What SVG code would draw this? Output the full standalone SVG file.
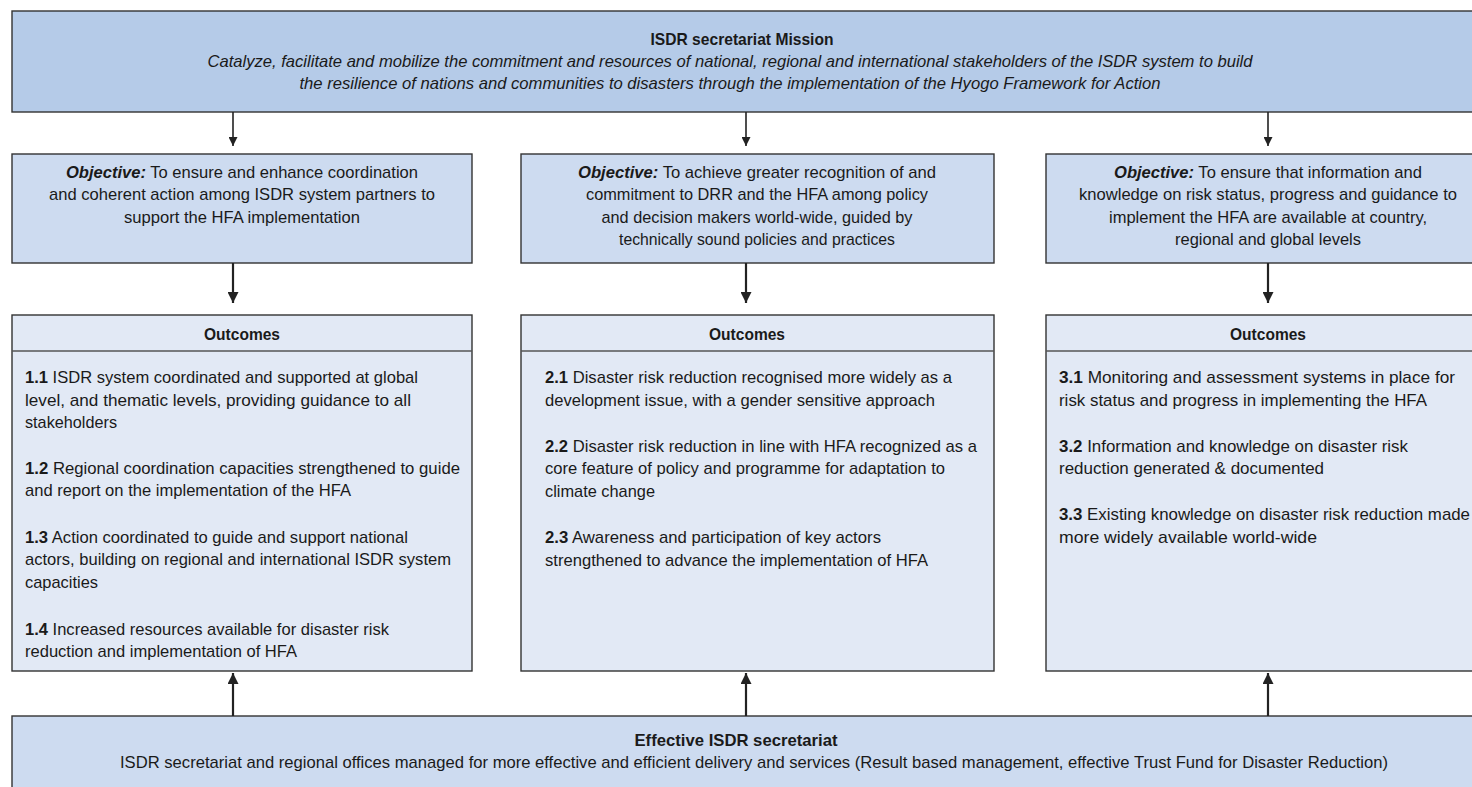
<svg xmlns="http://www.w3.org/2000/svg" width="1472" height="787" viewBox="0 0 1472 787">
<style>
text{font-family:"Liberation Sans",Arial,sans-serif;font-size:17px;fill:#1a1a1a}
.b{font-weight:bold}
.i{font-style:italic}
.m{text-anchor:middle}
.mis{fill:#b5cbe8;stroke:#333;stroke-width:1.4}
.obj{fill:#cddbf0;stroke:#333;stroke-width:1.4}
.out{fill:#e2e9f5;stroke:#333;stroke-width:1.4}
.hl{stroke:#555;stroke-width:1.4}
.c1{stroke:#222;stroke-width:1.6;fill:none}
.c2{stroke:#222;stroke-width:2.2;fill:none}
</style>
<defs>
<marker id="ah" viewBox="0 0 10 10" refX="10" refY="5" markerWidth="9" markerHeight="9" markerUnits="userSpaceOnUse" orient="auto">
<path d="M0,0 L10,5 L0,10 z" fill="#222"/>
</marker>
<marker id="ah2" viewBox="0 0 10 10" refX="10" refY="5" markerWidth="11" markerHeight="11" markerUnits="userSpaceOnUse" orient="auto">
<path d="M0,0 L10,5 L0,10 z" fill="#222"/>
</marker>
</defs>
<rect width="1472" height="787" fill="#fff"/>

<g id="mission">
<rect class="mis" x="12" y="11" width="1480" height="101"/>
<text class="b m" x="742" y="45" textLength="183" lengthAdjust="spacingAndGlyphs">ISDR secretariat Mission</text>
<text class="i m" x="730" y="67" textLength="1045" lengthAdjust="spacingAndGlyphs">Catalyze, facilitate and mobilize the commitment and resources of national, regional and international stakeholders of the ISDR system to build</text>
<text class="i m" x="730" y="89" textLength="861" lengthAdjust="spacingAndGlyphs">the resilience of nations and communities to disasters through the implementation of the Hyogo Framework for Action</text>
</g>

<g id="objective1">
<rect class="obj" x="12" y="154" width="460" height="109"/>
<text class="m" x="242" y="178" textLength="352" lengthAdjust="spacingAndGlyphs"><tspan class="b i">Objective:</tspan> To ensure and enhance coordination</text>
<text class="m" x="242" y="200" textLength="386" lengthAdjust="spacingAndGlyphs">and coherent action among ISDR system partners to</text>
<text class="m" x="242" y="223" textLength="236" lengthAdjust="spacingAndGlyphs">support the HFA implementation</text>
</g>

<g id="objective2">
<rect class="obj" x="521" y="154" width="473" height="109"/>
<text class="m" x="757" y="178" textLength="358" lengthAdjust="spacingAndGlyphs"><tspan class="b i">Objective:</tspan> To achieve greater recognition of and</text>
<text class="m" x="757" y="200" textLength="342" lengthAdjust="spacingAndGlyphs">commitment to DRR and the HFA among policy</text>
<text class="m" x="757" y="223" textLength="311" lengthAdjust="spacingAndGlyphs">and decision makers world-wide, guided by</text>
<text class="m" x="757" y="245" textLength="276" lengthAdjust="spacingAndGlyphs">technically sound policies and practices</text>
</g>

<g id="objective3">
<rect class="obj" x="1046" y="154" width="450" height="109"/>
<text class="m" x="1268" y="178" textLength="308" lengthAdjust="spacingAndGlyphs"><tspan class="b i">Objective:</tspan> To ensure that information and</text>
<text class="m" x="1268" y="200" textLength="378" lengthAdjust="spacingAndGlyphs">knowledge on risk status, progress and guidance to</text>
<text class="m" x="1268" y="223" textLength="318" lengthAdjust="spacingAndGlyphs">implement the HFA are available at country,</text>
<text class="m" x="1268" y="245" textLength="186" lengthAdjust="spacingAndGlyphs">regional and global levels</text>
</g>

<g id="outcomes1">
<rect class="out" x="12" y="315" width="460" height="356"/>
<line class="hl" x1="12" y1="351" x2="472" y2="351"/>
<text class="b m" x="242" y="340" textLength="76" lengthAdjust="spacingAndGlyphs">Outcomes</text>
<text x="25" y="383" textLength="393" lengthAdjust="spacingAndGlyphs"><tspan class="b">1.1</tspan> ISDR system coordinated and supported at global</text>
<text x="25" y="406" textLength="386" lengthAdjust="spacingAndGlyphs">level, and thematic levels, providing guidance to all</text>
<text x="25" y="428" textLength="92" lengthAdjust="spacingAndGlyphs">stakeholders</text>
<text x="25" y="474" textLength="435" lengthAdjust="spacingAndGlyphs"><tspan class="b">1.2</tspan> Regional coordination capacities strengthened to guide</text>
<text x="25" y="496" textLength="326" lengthAdjust="spacingAndGlyphs">and report on the implementation of the HFA</text>
<text x="25" y="543" textLength="383" lengthAdjust="spacingAndGlyphs"><tspan class="b">1.3</tspan> Action coordinated to guide and support national</text>
<text x="25" y="565" textLength="426" lengthAdjust="spacingAndGlyphs">actors, building on regional and international ISDR system</text>
<text x="25" y="588" textLength="73" lengthAdjust="spacingAndGlyphs">capacities</text>
<text x="25" y="635" textLength="364" lengthAdjust="spacingAndGlyphs"><tspan class="b">1.4</tspan> Increased resources available for disaster risk</text>
<text x="25" y="657" textLength="272" lengthAdjust="spacingAndGlyphs">reduction and implementation of HFA</text>
</g>

<g id="outcomes2">
<rect class="out" x="521" y="315" width="473" height="356"/>
<line class="hl" x1="521" y1="351" x2="994" y2="351"/>
<text class="b m" x="747" y="340" textLength="76" lengthAdjust="spacingAndGlyphs">Outcomes</text>
<text x="545" y="383" textLength="407" lengthAdjust="spacingAndGlyphs"><tspan class="b">2.1</tspan> Disaster risk reduction recognised more widely as a</text>
<text x="545" y="406" textLength="390" lengthAdjust="spacingAndGlyphs">development issue, with a gender sensitive approach</text>
<text x="545" y="452" textLength="432" lengthAdjust="spacingAndGlyphs"><tspan class="b">2.2</tspan> Disaster risk reduction in line with HFA recognized as a</text>
<text x="545" y="474" textLength="400" lengthAdjust="spacingAndGlyphs">core feature of policy and programme for adaptation to</text>
<text x="545" y="497" textLength="110" lengthAdjust="spacingAndGlyphs">climate change</text>
<text x="545" y="543" textLength="336" lengthAdjust="spacingAndGlyphs"><tspan class="b">2.3</tspan> Awareness and participation of key actors</text>
<text x="545" y="566" textLength="383" lengthAdjust="spacingAndGlyphs">strengthened to advance the implementation of HFA</text>
</g>

<g id="outcomes3">
<rect class="out" x="1046" y="315" width="450" height="356"/>
<line class="hl" x1="1046" y1="351" x2="1496" y2="351"/>
<text class="b m" x="1268" y="340" textLength="76" lengthAdjust="spacingAndGlyphs">Outcomes</text>
<text x="1059" y="383" textLength="396" lengthAdjust="spacingAndGlyphs"><tspan class="b">3.1</tspan> Monitoring and assessment systems in place for</text>
<text x="1059" y="406" textLength="368" lengthAdjust="spacingAndGlyphs">risk status and progress in implementing the HFA</text>
<text x="1059" y="452" textLength="349" lengthAdjust="spacingAndGlyphs"><tspan class="b">3.2</tspan> Information and knowledge on disaster risk</text>
<text x="1059" y="474" textLength="265" lengthAdjust="spacingAndGlyphs">reduction generated &amp; documented</text>
<text x="1059" y="520" textLength="411" lengthAdjust="spacingAndGlyphs"><tspan class="b">3.3</tspan> Existing knowledge on disaster risk reduction made</text>
<text x="1059" y="543" textLength="258" lengthAdjust="spacingAndGlyphs">more widely available world-wide</text>
</g>

<g id="secretariat">
<rect class="obj" x="12" y="716" width="1480" height="90"/>
<text class="b m" x="736" y="746" textLength="203" lengthAdjust="spacingAndGlyphs">Effective ISDR secretariat</text>
<text class="m" x="754" y="768" textLength="1268" lengthAdjust="spacingAndGlyphs">ISDR secretariat and regional offices managed for more effective and efficient delivery and services (Result based management, effective Trust Fund for Disaster Reduction)</text>
</g>

<g id="connectors">
<line class="c1" x1="233" y1="112" x2="233" y2="146" marker-end="url(#ah)"/>
<line class="c1" x1="746" y1="112" x2="746" y2="146" marker-end="url(#ah)"/>
<line class="c1" x1="1268" y1="112" x2="1268" y2="146" marker-end="url(#ah)"/>
<line class="c2" x1="233" y1="263" x2="233" y2="303" marker-end="url(#ah2)"/>
<line class="c2" x1="746" y1="263" x2="746" y2="303" marker-end="url(#ah2)"/>
<line class="c2" x1="1268" y1="263" x2="1268" y2="303" marker-end="url(#ah2)"/>
<line class="c2" x1="233" y1="716" x2="233" y2="673" marker-end="url(#ah2)"/>
<line class="c2" x1="746" y1="716" x2="746" y2="673" marker-end="url(#ah2)"/>
<line class="c2" x1="1268" y1="716" x2="1268" y2="673" marker-end="url(#ah2)"/>
</g>
</svg>
